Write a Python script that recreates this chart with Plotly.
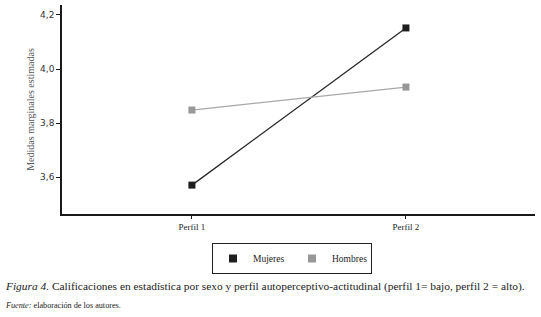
import plotly.graph_objects as go

categories = ["Perfil 1", "Perfil 2"]
mujeres = [3.57, 4.152]
hombres = [3.848, 3.933]
y_ticks = [3.6, 3.8, 4.0, 4.2]
y_ticklabels = ["3,6", "3,8", "4,0", "4,2"]

W, H = 541, 317
L, R, T, B = 62, 6, 5, 103
PW, PH = W - L - R, H - T - B

fig = go.Figure()
fig.add_trace(go.Scatter(x=[0, 1], y=mujeres, mode="lines+markers", name="Mujeres",
                         showlegend=False,
                         line=dict(color="#262626", width=1.3),
                         marker=dict(symbol="square", size=7, color="#1e1e1e")))
fig.add_trace(go.Scatter(x=[0, 1], y=hombres, mode="lines+markers", name="Hombres",
                         showlegend=False,
                         line=dict(color="#a8a8a8", width=1.3),
                         marker=dict(symbol="square", size=7, color="#989898")))
# legend-only entries (squares only)
fig.add_trace(go.Scatter(x=[None], y=[None], mode="markers", name="Mujeres",
                         marker=dict(symbol="square", size=8, color="#1e1e1e")))
fig.add_trace(go.Scatter(x=[None], y=[None], mode="markers", name="Hombres",
                         marker=dict(symbol="square", size=8, color="#989898")))

fig.update_layout(
    width=W, height=H,
    margin=dict(l=L, r=R, t=T, b=B, autoexpand=False),
    paper_bgcolor="white", plot_bgcolor="white",
    separators=",.",
    showlegend=True,
    legend=dict(orientation="h", x=(292 - L) / PW, y=-(243 - 214) / PH,
                xanchor="center", yanchor="top",
                bordercolor="#222", borderwidth=1,
                font=dict(family="Liberation Serif", size=9.5, color="#222"),
                itemwidth=30, tracegroupgap=0, entrywidth=34),
    xaxis=dict(range=[-0.607, 1.603], tickvals=[0, 1], ticktext=categories,
               automargin=False,
               showline=True, linecolor="#1a1a1a", linewidth=1.5, zeroline=False,
               showgrid=False, ticks="outside", ticklen=3, tickcolor="#1a1a1a",
               tickfont=dict(family="Liberation Serif", size=9, color="#222")),
    yaxis=dict(range=[3.463, 4.237], tickvals=y_ticks, ticktext=y_ticklabels,
               automargin=False,
               showline=True, linecolor="#1a1a1a", linewidth=1.5, zeroline=False,
               showgrid=False, ticks="outside", ticklen=4, tickcolor="#1a1a1a",
               tickfont=dict(family="DejaVu Sans", size=9, color="#333"),
               title=dict(text="Medidas marginales estimadas", standoff=4,
                          font=dict(family="Liberation Serif", size=10, color="#555"))),
)

fig.add_annotation(xref="paper", yref="paper", x=-(L - 3) / PW, y=-(278 - 214) / PH,
                   xanchor="left", yanchor="top", showarrow=False,
                   text="<i>Figura 4.</i> Calificaciones en estadística por sexo y perfil autoperceptivo-actitudinal (perfil 1= bajo, perfil 2 = alto).",
                   font=dict(family="Liberation Serif", size=11.4, color="#222"))
fig.add_annotation(xref="paper", yref="paper", x=-(L - 3) / PW, y=-(299 - 214) / PH,
                   xanchor="left", yanchor="top", showarrow=False,
                   text="<i>Fuente:</i> elaboración de los autores.",
                   font=dict(family="Liberation Serif", size=8.2, color="#222"))

fig.write_html("out.html", config={"displayModeBar": False},
               post_script="document.body.style.margin='0';document.body.style.overflow='hidden';")
